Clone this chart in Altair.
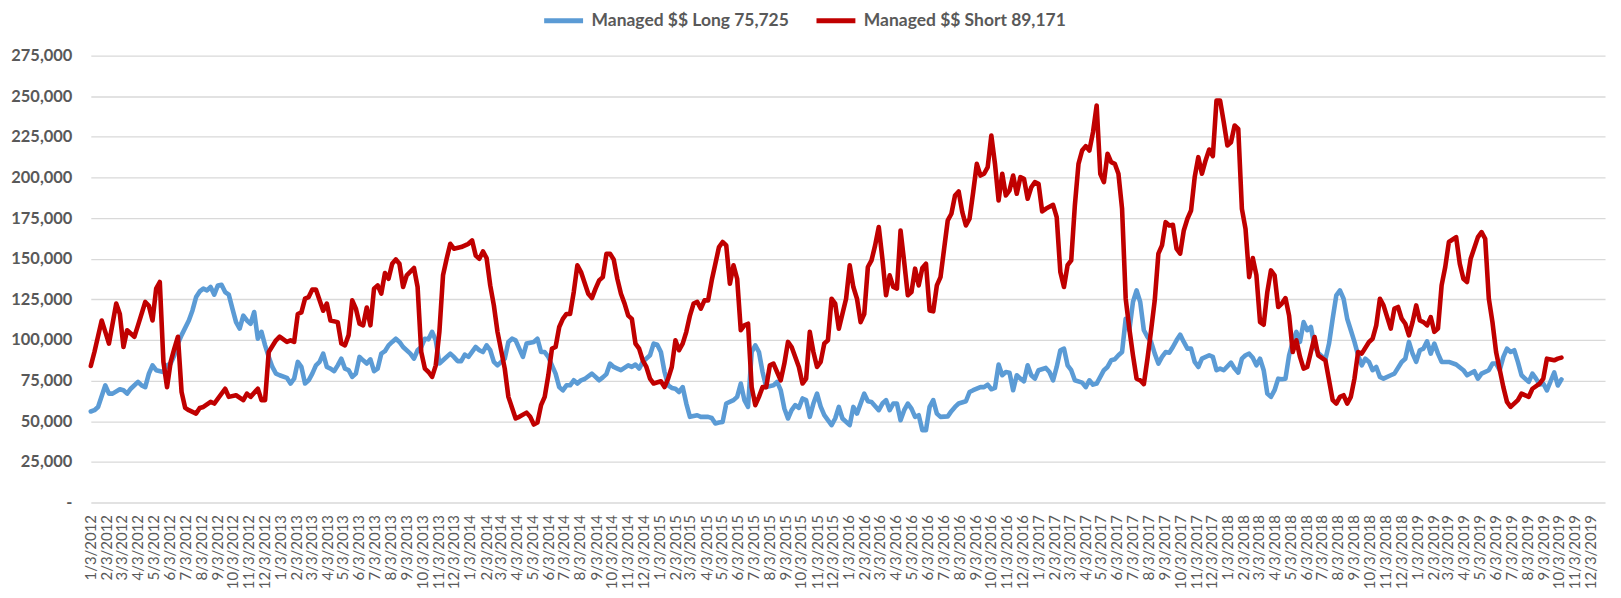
import altair as alt
import pandas as pd

# Weekly CFTC report index (weeks after 2012-01-03) and values (thousands of $)
long_weeks = [0,1,2,4,5,6,8,9,10,11,13,14,15,16,17,18,20,21,22,23,24,25,27,28,29,30,31,32,33,34,35,36,37,38,39,40,41,42,43,44,45,46,47,48,49,50,51,52,54,55,56,57,58,59,60,61,62,63,64,65,66,67,68,69,70,71,72,73,74,75,76,77,78,79,80,81,82,83,84,85,86,88,89,90,91,92,93,94,95,96,97,99,100,101,102,103,104,106,107,108,109,110,111,112,114,115,116,117,118,119,120,122,123,124,125,126,127,128,129,130,131,132,133,134,135,136,138,139,140,141,142,143,144,145,146,148,149,150,151,152,154,155,156,157,158,159,160,161,162,163,164,165,167,168,170,171,172,173,174,175,177,178,179,180,181,182,183,184,185,186,188,189,190,191,192,193,194,195,196,197,198,199,200,201,202,204,205,206,207,209,210,211,213,214,215,217,218,219,220,221,222,223,224,225,226,227,228,229,230,231,232,233,234,236,237,238,239,241,242,243,245,246,247,248,249,250,251,252,253,254,255,256,257,258,259,260,261,263,264,265,266,267,268,269,270,271,273,274,275,276,277,279,280,281,282,283,284,285,286,287,288,289,290,291,292,293,294,295,296,297,298,299,300,301,302,303,304,305,306,308,309,310,311,312,314,315,316,317,318,319,320,321,322,323,324,325,326,327,328,329,330,331,332,333,334,335,336,337,338,339,340,341,342,343,344,345,346,347,348,349,350,351,352,353,354,355,356,358,359,361,362,363,364,365,366,367,368,369,370,371,372,374,376,378,379,381,382,383,385,386,387,388,389,390,391,392,393,394,396,397,398,399,400,401,403,404,405]
long_k = [56,56.8,58.8,72.1,67,67,69.7,69.1,67,70,74.2,72.1,71,79.3,84.4,81.4,80.3,84.4,85.5,90.6,97.8,103,112,118.2,126.4,129.9,131.6,130.5,132.6,127.9,133.6,134,129.5,127.9,119.3,111,107,115,112,110,117.2,100.8,105,96.7,89.6,83.4,79.3,78.3,76.7,73.2,76.2,86.5,83.4,73.2,75.2,79.3,84.4,86.5,91.6,83.4,82.4,80.8,84.4,88.5,82.4,81.4,77.3,79.3,89.6,87.5,85.5,88.1,80.8,82.4,91.6,93.1,96.7,98.8,100.8,98.8,95.7,91.6,88.5,93.7,95.7,100.8,100.4,105,99.8,85.5,87.5,91.6,89.6,87,87,91,89.6,95.7,93.7,92.6,96.7,93.7,86.5,84.4,88.5,98.8,100.8,99.8,94.7,89.6,97.8,98.8,100.8,92.6,92.6,89.6,84.4,79.3,71,69,72.1,72.1,75.2,73.2,75.2,76,79.3,77.3,75.2,77,79,85.5,83.4,82.4,81.4,84.4,83.4,84.9,82.4,86.5,90.6,97.8,97.1,92.6,80.3,72.1,70.5,70,68,71,60.9,52.7,53.7,52.7,52.7,52,48.6,49.2,49.6,60.9,63,65,73.2,63,58.8,92.6,96.7,92.6,80.3,71,72.1,74.2,69.1,57.8,51.7,56.8,59.9,58.2,64,63,52.7,60.9,67,59,53.7,47.6,51.7,58.8,51.7,47.6,58.8,54.7,67,62.3,61.9,56.8,60.9,63,56.8,60.9,60.9,50.6,56.8,60.9,57.8,52.7,53.7,44.5,44.5,58.8,63,54.7,52.7,53,56.2,58.8,60.9,62.3,68,69.1,71,71,72.5,69.7,70.5,84.9,78.3,80.3,79.9,69.1,78.3,76.2,74.6,84.4,78.3,76.2,81.4,82.8,80.3,75.2,83.4,93.7,94.7,84.4,81.4,75.2,73.8,71,75.2,72.5,73.2,81.4,83.4,87.5,88.1,90.6,92.6,113.1,106,123.4,130.5,123.4,106,101.9,98.8,91.6,85.5,89.6,92.6,92.2,95.7,99.8,103.3,98.8,94.7,94.7,86.5,83.4,88.5,90.6,89.6,81.4,82.4,81.4,86.1,82.4,79.9,88.5,90.6,91.6,89,84.4,88.5,81.4,67,65,69.1,76.2,75.8,76.2,90.6,98.8,105,98.8,111,106,108,96,92,90,88,97.8,113.1,127.5,130.5,125.4,113.1,106,98.8,90.6,84.4,88.5,86.5,81.4,83.4,77.3,76.2,78.3,79.3,86.5,88.5,98.8,91.6,86.5,93.7,94.7,99.2,91.6,97.8,91.6,86.5,86.5,84.9,81.4,78.3,80.8,76.2,79.3,81.4,85.5,85.5,81.4,89.6,94.7,92.6,93.7,86.5,78.3,74.2,79.3,76.2,72.5,73.2,69,80,72,75.725]

short_weeks = [0,1,3,4,5,7,8,9,10,12,13,15,16,17,18,19,20,21,22,23,24,25,26,27,29,30,31,33,34,37,38,40,42,43,44,46,47,48,49,51,52,54,55,56,57,58,59,60,61,62,64,65,66,68,69,70,71,72,73,74,75,76,77,78,79,80,81,82,83,84,85,86,87,89,90,91,92,93,94,95,96,97,98,99,100,102,104,105,106,107,108,109,110,111,112,114,115,117,118,120,121,122,123,124,125,126,127,128,129,130,131,132,133,134,135,137,138,139,140,141,142,143,144,145,146,147,148,149,150,151,152,153,154,155,157,158,159,160,161,162,163,164,165,166,167,168,169,170,171,172,173,174,175,176,177,178,179,180,181,182,183,184,185,186,187,188,189,190,191,192,193,195,196,197,198,199,200,201,202,203,204,205,206,208,209,210,211,212,213,214,215,216,217,218,219,220,221,222,223,224,225,226,227,228,229,230,231,232,233,234,235,236,237,238,239,240,241,242,243,244,245,246,247,248,249,250,251,252,253,254,255,256,257,258,259,260,261,262,263,265,266,267,268,269,270,271,272,273,274,275,276,277,278,279,280,281,282,283,284,285,286,287,288,289,290,291,292,293,294,295,296,297,298,299,300,301,302,303,304,305,306,307,308,309,310,311,312,313,314,315,316,317,318,319,320,321,322,323,324,325,326,327,328,329,330,331,332,333,334,335,337,338,340,342,343,344,345,346,347,348,349,350,352,353,354,355,356,358,359,360,361,362,363,364,365,366,367,368,369,370,371,372,373,374,376,377,378,379,380,382,383,384,385,386,387,389,390,391,393,394,396,397,399,400,401,403,404,405]
short_k = [84,92.6,112,105,97.8,122.4,116,95.7,106,102,109,123.4,121,112,131.6,135.7,86.5,71,86.5,94.7,102,68,58.2,56.8,54.7,58.2,58.8,61.9,60.9,70,65,66,63,67,65,70,63,63,92.6,99.8,102,98.8,99.8,98.8,116,117,125.4,126.4,131,131,118,122.4,112,111,97.8,96.7,103,124.4,119.3,110,109,120,109,131.6,133.6,128.5,141.2,137.7,146.9,149.6,146.9,132.6,139.8,144.3,132.6,92.6,82.4,80.3,77.3,84.4,105,139.8,150,159.2,156.2,157.2,159.2,161.3,152,150,154.5,150.4,133.6,121.3,105,82.4,65,51.7,52.7,55.3,52.7,48,49.2,59.9,65,78.3,94.7,95.7,108,113,116,116,129.5,146,141.8,128.5,125.8,131.6,136.7,138.7,153,153,149.6,137.7,128.5,122.4,115,113,97.8,94.7,87.5,83.4,76.2,73.2,74.6,71,76.2,83.4,99.8,93.7,97.8,105,115,122.4,123.4,119.3,124.4,124.4,136.7,146.9,157.2,160.3,158.2,134.6,146,137.7,106,109,110,71,59.9,65,71,71,84.4,85.5,80.3,75.2,85.5,98.8,95.7,83.4,73.2,76.2,105,92.6,83.4,86.5,97.8,99.8,125.4,122.4,107,125.4,145.9,132.6,125.4,111,116,144.9,149,158.2,169.5,150,127.5,139.8,132.6,131.6,167.4,148,127.5,129.5,143.9,133.6,144.3,146.9,118.2,117.6,133.6,138.7,156.2,173.6,177.7,188.9,191.4,178.7,170.5,174.6,191,208.4,201.2,202.3,206.4,225.8,208.4,185.9,202.3,188.9,192,201.2,190,200.2,199.2,186.9,194,197.1,196.1,179.1,180.7,183.2,175.6,141.8,132.6,146,149,182.8,208.4,216.6,219.3,216.6,227.9,244.3,202.3,197.1,214.6,209.4,208.4,202.3,180.7,125.4,107,90.6,76.2,75.2,72.8,88.5,106,124.4,153.1,158.2,172.5,170.5,170.9,156.2,153.1,167.4,174.6,179.7,200.2,212.5,202.3,210.5,217.2,213.1,247.3,247.3,234,219.7,221.7,232,229.9,180.7,168.4,138.7,150.4,139.8,111,109.4,129.5,142.8,139.8,120.3,122.4,125.8,115,92.6,99.8,89.6,82.4,83.4,101.8,90.6,87.5,63,60.9,65,66,60.9,65,76.2,92.6,91.6,98.8,100.8,109,125.4,121.3,107,119.3,120.3,113.1,110,102.9,111,121.3,112,111,109,114.1,105,107,133.6,144.9,160.3,163.3,146.9,137.7,135.7,150,163.3,166.4,162.3,125.4,111,92.6,71,61.9,58.8,63,67,65,70,73.2,76.2,88.5,87.5,88.5,89.171]

series_names = ["Managed $$ Long 75,725", "Managed $$ Short 89,171"]
series_colors = ["#5B9BD5", "#C00000"]
y_ticks = list(range(0, 275001, 25000))
tick_years = list(range(2012, 2020))

start = pd.Timestamp("2012-01-03")


def frame(weeks, vals, name):
    d = pd.DataFrame({"week": weeks, "k": vals})
    d["date"] = (start + pd.to_timedelta(d["week"] * 7, unit="D")).dt.strftime("%Y-%m-%dT00:00:00")
    d["value"] = d["k"] * 1000
    d["series"] = name
    return d[["date", "value", "series"]]


df = pd.concat([frame(long_weeks, long_k, series_names[0]),
                frame(short_weeks, short_k, series_names[1])], ignore_index=True)

x_vals = [alt.DateTime(year=y, month=m, date=3) for y in tick_years for m in range(1, 13)]

FONT = "Lato"
GREY = "#595959"

chart = alt.Chart(df).mark_line(strokeWidth=4.6, strokeJoin="round", strokeCap="round").encode(
    x=alt.X("date:T",
            scale=alt.Scale(domain=[alt.DateTime(year=2012, month=1, date=3),
                                    alt.DateTime(year=2019, month=12, date=31)]),
            axis=alt.Axis(title=None, values=x_vals, format="%-m/%-d/%Y", labelAngle=270,
                          labelFont=FONT, labelFontSize=15, labelColor=GREY, labelPadding=12,
                          labelOverlap=False, labelFlush=False, ticks=False, domain=False,
                          grid=False)),
    y=alt.Y("value:Q",
            scale=alt.Scale(domain=[0, 275000], nice=False),
            axis=alt.Axis(title=None, values=y_ticks,
                          labelExpr="datum.value == 0 ? '-\u00a0\u00a0\u00a0\u00a0\u00a0\u00a0' : format(datum.value, ',')",
                          labelFont=FONT, labelFontSize=16.5, labelFontWeight="bold", labelColor=GREY,
                          labelPadding=19, ticks=False, domain=False,
                          gridColor="#D9D9D9", gridWidth=1.3)),
    color=alt.Color("series:N",
                    scale=alt.Scale(domain=series_names, range=series_colors),
                    legend=alt.Legend(title=None, orient="none", legendX=452, legendY=-57,
                                      direction="horizontal", symbolType="stroke",
                                      symbolSize=1521, symbolStrokeWidth=5,
                                      labelFont=FONT, labelFontSize=17.5, labelFontWeight="bold",
                                      labelColor=GREY, labelLimit=400, labelOffset=6,
                                      columnPadding=16, padding=0)),
).properties(
    width=1518,
    height=448,
    padding={"left": 83, "top": 47, "right": 8, "bottom": 88},
    autosize=alt.AutoSizeParams(type="none"),
).configure_view(stroke="transparent")

chart.save("out.html", embed_options={"renderer": "svg", "actions": False})
